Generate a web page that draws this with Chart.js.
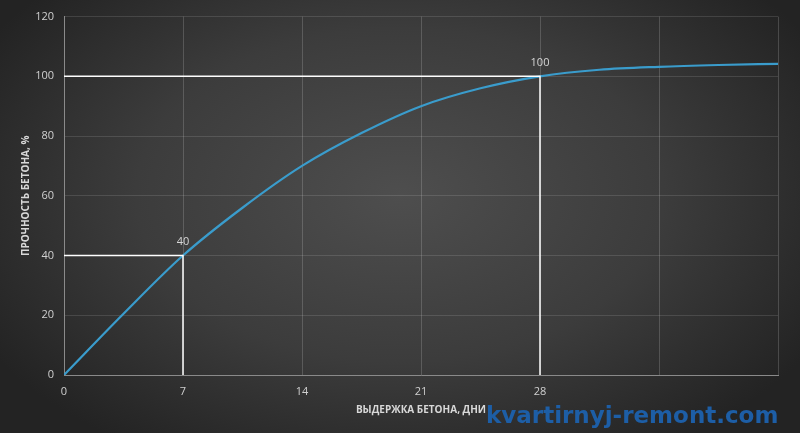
<!DOCTYPE html>
<html>
<head>
<meta charset="utf-8">
<script src="https://cdn.jsdelivr.net/npm/chart.js@4/dist/chart.umd.min.js"></script>
<style>
  html, body { margin: 0; padding: 0; }
  body {
    width: 800px; height: 433px; overflow: hidden; position: relative;
    background: radial-gradient(ellipse 60% 70% at 50% 45%, #4e4e4e 0%, #3c3c3c 55%, #232323 100%);
  }
  #wrap { position: absolute; left: 0; top: 0; width: 800px; height: 433px; }
  #mark {
    position: absolute; left: 486px; top: 402px; white-space: nowrap;
    font: bold 23px "DejaVu Sans", sans-serif; color: #1d5ea6;
  }
</style>
</head>
<body>
<div id="wrap"><canvas id="strengthChart"></canvas></div>
<div id="mark">kvartirnyj-remont.com</div>
<script>
// curing days and concrete strength, %
var days = [0, 3.5, 7, 10.5, 14, 17.5, 21, 24.5, 28, 31.5, 35, 38.5, 42];
var strength = [0, 20.5, 40, 56, 70, 81, 90, 96, 100, 102.2, 103.2, 103.8, 104.2];
// marked points (7 days -> 40%, 28 days -> 100%)
var markDays = [7, 28];
var markValues = [40, 100];
var labeledDays = [0, 7, 14, 21, 28];

var curve = days.map(function (d, i) { return { x: d, y: strength[i] }; });

var guideSets = markDays.map(function (d, i) {
  return {
    data: [{ x: 0, y: markValues[i] }, { x: d, y: markValues[i] }, { x: d, y: 0 }],
    borderColor: '#ffffff',
    borderWidth: 1.5,
    pointRadius: 0,
    tension: 0
  };
});

var pointLabels = {
  id: 'pointLabels',
  afterDatasetsDraw: function (chart) {
    var c = chart.ctx;
    var xs = chart.scales.x, ys = chart.scales.y;
    c.save();
    c.font = '11px "Open Sans", sans-serif';
    c.fillStyle = '#d6d6d6';
    c.textAlign = 'center';
    c.textBaseline = 'bottom';
    markDays.forEach(function (d, i) {
      c.fillText(String(markValues[i]), xs.getPixelForValue(d), ys.getPixelForValue(markValues[i]) - 8);
    });
    c.restore();
  }
};

var ctx = document.getElementById('strengthChart').getContext('2d');
var strengthChart = new Chart(ctx, {
  type: 'line',
  data: {
    datasets: guideSets.concat([{
      data: curve,
      borderColor: '#3a9ccc',
      borderWidth: 2.2,
      pointRadius: 0,
      cubicInterpolationMode: 'monotone'
    }])
  },
  options: {
    responsive: true,
    maintainAspectRatio: false,
    animation: false,
    layout: { padding: { top: 15, right: 22, left: 0, bottom: 0 } },
    plugins: { legend: { display: false }, tooltip: { enabled: false } },
    scales: {
      x: {
        type: 'linear',
        min: 0, max: 42,
        afterFit: function (s) { s.height = 58; },
        ticks: {
          stepSize: 7,
          color: '#d0d0d0',
          font: { family: 'Open Sans', size: 11 },
          padding: 10,
          callback: function (v) { return labeledDays.indexOf(v) >= 0 ? v : ''; }
        },
        grid: { color: 'rgba(255,255,255,0.17)', drawTicks: false },
        border: { color: '#8a8a8a' },
        title: {
          display: true,
          text: 'ВЫДЕРЖКА БЕТОНА, ДНИ',
          color: '#d8d8d8',
          font: { family: 'Open Sans', size: 10, weight: 'bold' },
          padding: { top: 2, bottom: 17 }
        }
      },
      y: {
        min: 0, max: 120,
        afterFit: function (s) { s.width = 64; },
        ticks: {
          stepSize: 20,
          color: '#d0d0d0',
          font: { family: 'Open Sans', size: 11 },
          padding: 10
        },
        grid: { color: 'rgba(255,255,255,0.12)', drawTicks: false },
        border: { color: '#8a8a8a' },
        title: {
          display: true,
          text: 'ПРОЧНОСТЬ БЕТОНА, %',
          color: '#d8d8d8',
          font: { family: 'Open Sans', size: 10, weight: 'bold' },
          padding: { top: 20, bottom: 4 }
        }
      }
    }
  },
  plugins: [pointLabels]
});
</script>
</body>
</html>
